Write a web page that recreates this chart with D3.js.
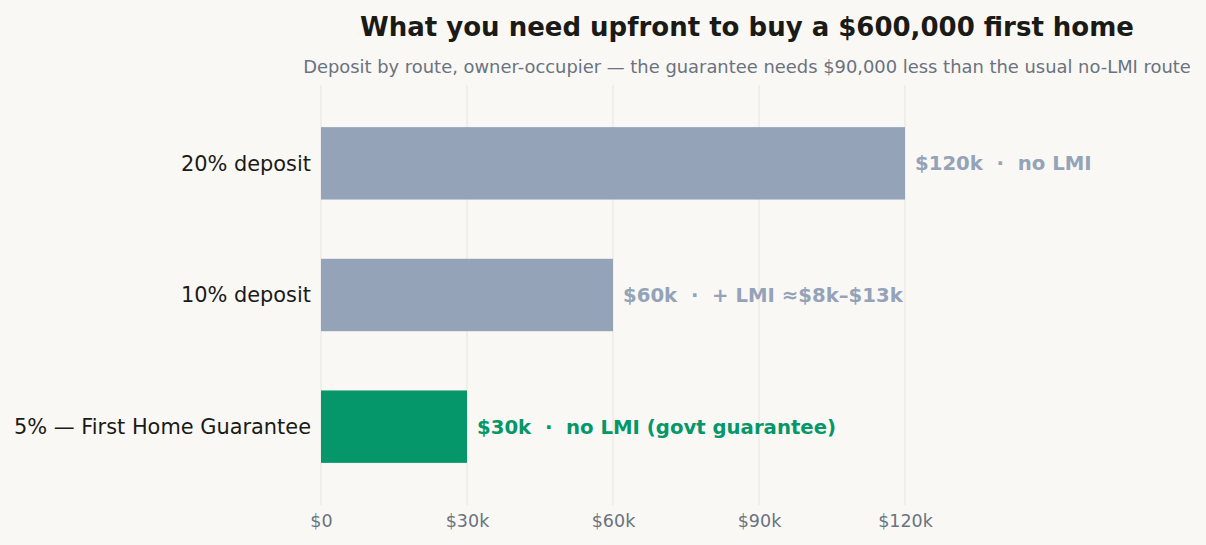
<!DOCTYPE html>
<html>
  <head>
    <script src="https://d3js.org/d3.v7.min.js"></script>
    <style>
      body { margin: 0; background-color: #f9f8f5; }
      text { font-family: 'DejaVu Sans', sans-serif; }
      .val { white-space: pre; }
    </style>
  </head>
  <body>
    <svg id="canvas" width="1206" height="545"></svg>
    <script>
      const routes = ['20% deposit', '10% deposit', '5% — First Home Guarantee']
      const deposits = [120000, 60000, 30000]
      const notes = ['no LMI', '+ LMI ≈$8k–$13k', 'no LMI (govt guarantee)']
      const highlight = [false, false, true]
      const ticks = [0, 30000, 60000, 90000, 120000]

      const data = routes.map((r, i) => ({ route: r, value: deposits[i], note: notes[i], hl: highlight[i] }))

      const margin = { top: 85, right: 301, bottom: 40, left: 321 }
      const svg = d3.select('#canvas')
      const width = 1206 - margin.left - margin.right
      const height = 545 - margin.top - margin.bottom

      svg.append('rect').attr('width', 1206).attr('height', 545).attr('fill', '#f9f8f5')

      svg.append('text')
        .attr('x', 747).attr('y', 36)
        .attr('text-anchor', 'middle')
        .attr('font-size', 26).attr('font-weight', 'bold')
        .attr('fill', '#1a1a17')
        .text('What you need upfront to buy a $600,000 first home')

      svg.append('text')
        .attr('x', 747).attr('y', 73)
        .attr('text-anchor', 'middle')
        .attr('font-size', 17.9)
        .attr('fill', '#6b7280')
        .text('Deposit by route, owner-occupier — the guarantee needs $90,000 less than the usual no-LMI route')

      const g = svg.append('g').attr('transform', `translate(${margin.left}, ${margin.top})`)

      const x = d3.scaleLinear().domain([0, 120000]).range([0, width])
      const y = d3.scaleBand().domain(routes).range([0, height]).paddingInner(0.45).paddingOuter(0.32)

      // gridlines
      g.selectAll('line.grid').data(ticks)
        .enter()
        .append('line')
          .attr('class', 'grid')
          .attr('x1', d => x(d)).attr('x2', d => x(d))
          .attr('y1', 0).attr('y2', height)
          .attr('stroke', '#e6e4e0')
          .attr('stroke-width', 1)

      const fmt = d => d === 0 ? '$0' : `$${d / 1000}k`

      const xAxis = g.append('g')
        .attr('transform', `translate(0, ${height})`)
        .call(d3.axisBottom(x).tickValues(ticks).tickFormat(fmt).tickSize(0).tickPadding(10))
      xAxis.select('.domain').remove()
      xAxis.selectAll('text')
        .attr('font-family', 'DejaVu Sans, sans-serif')
        .attr('font-size', 17.5)
        .attr('fill', '#6b7280')

      g.selectAll('rect.bar').data(data)
        .enter()
        .append('rect')
          .attr('class', 'bar')
          .attr('x', 0)
          .attr('y', d => y(d.route))
          .attr('width', d => x(d.value))
          .attr('height', y.bandwidth())
          .attr('fill', d => d.hl ? '#059669' : '#94a3b8')

      g.selectAll('text.cat').data(data)
        .enter()
        .append('text')
          .attr('class', 'cat')
          .attr('x', -10)
          .attr('y', d => y(d.route) + y.bandwidth() / 2)
          .attr('dy', '0.35em')
          .attr('text-anchor', 'end')
          .attr('font-size', 20.9)
          .attr('fill', '#1a1a17')
          .text(d => d.route)

      g.selectAll('text.val').data(data)
        .enter()
        .append('text')
          .attr('class', 'val')
          .attr('x', d => x(d.value) + 10)
          .attr('y', d => y(d.route) + y.bandwidth() / 2)
          .attr('dy', '0.35em')
          .attr('font-size', 19.7)
          .attr('font-weight', 'bold')
          .attr('fill', d => d.hl ? '#059669' : '#94a3b8')
          .text(d => `${fmt(d.value)}  ·  ${d.note}`)
    </script>
  </body>
</html>
